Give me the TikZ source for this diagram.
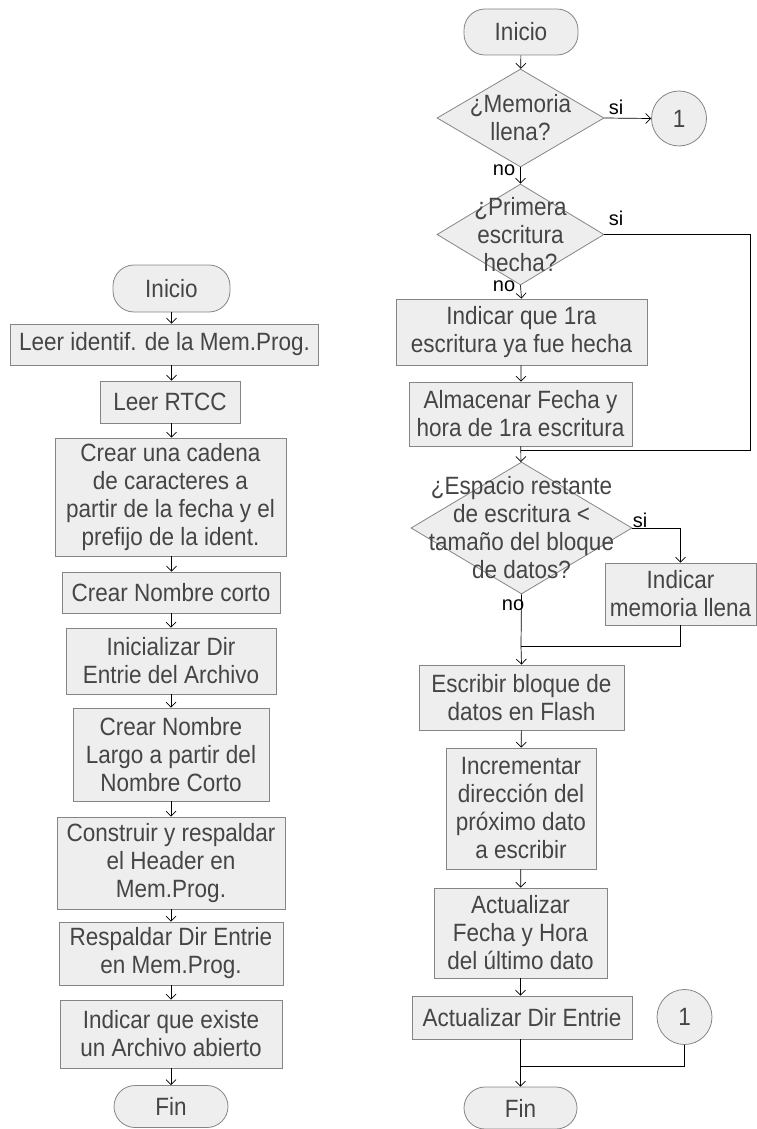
\documentclass[tikz,border=0pt]{standalone}
\usepackage{fontspec}
\setmainfont{Liberation Sans}
\newfontfamily\boxfont[FakeStretch=0.9]{Liberation Sans}
\usetikzlibrary{shapes.geometric,arrows.meta}
\definecolor{boxfill}{HTML}{EEEEEE}
\definecolor{boxline}{HTML}{858585}
\definecolor{boxtext}{HTML}{454545}
\tikzset{
  base/.style={fill=boxfill,draw=boxline,line width=0.8pt,text=boxtext,align=center,
    font=\boxfont\fontsize{25}{28}\selectfont,inner sep=1pt},
  procbox/.style={base,rectangle},
  termbox/.style={base,rectangle,rounded corners=21pt},
  decbox/.style={base,diamond},
  connbox/.style={base,circle,minimum size=55pt},
  lbl/.style={font=\fontsize{20}{22}\selectfont,text=black,inner sep=0pt},
  dectext/.style={text=boxtext,align=center,font=\boxfont\fontsize{25}{28}\selectfont,inner sep=0pt},
  flow/.style={draw=black,line width=0.7pt,-{Straight Barb[length=5pt,width=10pt]}},
  plain/.style={draw=black,line width=0.7pt},
}
\begin{document}
\begin{tikzpicture}[x=1pt,y=-1pt]
\useasboundingbox (0,0) rectangle (757,1129);
% ---------- left column ----------
\node[termbox,minimum width=117pt,minimum height=47pt] (L0) at (171.5,288.5) {Inicio};
\node[procbox,minimum width=308pt,minimum height=41pt] (L1) at (164.5,344.5) {Leer identif. de la Mem.Prog.};
\node[procbox,minimum width=140pt,minimum height=42pt] (L2) at (170,402) {Leer RTCC};
\node[procbox,minimum width=231pt,minimum height=118pt] (L3) at (170.5,497) {Crear una cadena\\de caracteres a\\partir de la fecha y el\\prefijo de la ident.};
\node[procbox,minimum width=218pt,minimum height=41pt] (L4) at (171,592.5) {Crear Nombre corto};
\node[procbox,minimum width=210pt,minimum height=66pt] (L5) at (171,661) {Inicializar Dir\\Entrie del Archivo};
\node[procbox,minimum width=196pt,minimum height=93pt] (L6) at (171,754.5) {Crear Nombre\\Largo a partir del\\Nombre Corto};
\node[procbox,minimum width=228pt,minimum height=92pt] (L7) at (171,863) {Construir y respaldar\\el Header en\\Mem.Prog.};
\node[procbox,minimum width=224pt,minimum height=63pt] (L8) at (171,953.5) {Respaldar Dir Entrie\\en Mem.Prog.};
\node[procbox,minimum width=222pt,minimum height=68pt] (L9) at (171,1034) {Indicar que existe\\un Archivo abierto};
\node[termbox,minimum width=114pt,minimum height=42pt] (L10) at (171,1106.5) {Fin};
\draw[flow] (L0.south) -- (L0.south|-L1.north);
\draw[flow] (L0.south|-L1.south) -- (L0.south|-L2.north);
\draw[flow] (L0.south|-L2.south) -- (L0.south|-L3.north);
\draw[flow] (L0.south|-L3.south) -- (L0.south|-L4.north);
\draw[flow] (L4) -- (L5);
\draw[flow] (L5) -- (L6);
\draw[flow] (L6) -- (L7);
\draw[flow] (L7) -- (L8);
\draw[flow] (L8) -- (L9);
\draw[flow] (L9) -- (L10);
% ---------- right column ----------
\node[termbox,minimum width=114pt,minimum height=46pt] (R0) at (521,32) {Inicio};
\node[decbox,minimum width=167pt,minimum height=98pt] (D1) at (520.5,118) {};
\node[dectext] at (D1) {¿Memoria\\llena?};
\node[connbox] (C1) at (679,118.5) {1};
\node[decbox,minimum width=167pt,minimum height=101pt] (D2) at (520.5,234.5) {};
\node[dectext] at (D2) {¿Primera\\escritura\\hecha?};
\node[procbox,minimum width=251pt,minimum height=66pt] (B1) at (521.5,332) {Indicar que 1ra\\escritura ya fue hecha};
\node[procbox,minimum width=223pt,minimum height=64pt] (B2) at (520.5,414) {Almacenar Fecha y\\hora de 1ra escritura};
\node[decbox,minimum width=221pt,minimum height=132pt] (D3) at (521.5,528) {};
\node[dectext] at (D3) {¿Espacio restante\\de escritura <\\tamaño del bloque\\de datos?};
\node[procbox,minimum width=151pt,minimum height=62pt] (B3) at (680.5,594) {Indicar\\memoria llena};
\node[procbox,minimum width=205pt,minimum height=65pt] (B4) at (521.5,697.5) {Escribir bloque de\\datos en Flash};
\node[procbox,minimum width=150pt,minimum height=121pt] (B5) at (521,808.5) {Incrementar\\dirección del\\próximo dato\\a escribir};
\node[procbox,minimum width=173pt,minimum height=90pt] (B6) at (520.5,933) {Actualizar\\Fecha y Hora\\del último dato};
\node[procbox,minimum width=220pt,minimum height=43pt] (B7) at (522,1017.5) {Actualizar Dir Entrie};
\node[connbox] (C2) at (684.5,1017) {1};
\node[termbox,minimum width=113pt,minimum height=42pt] (F) at (520.5,1108) {Fin};
\coordinate (J1) at (521,450);
\coordinate (J2) at (521,646);
\coordinate (J3) at (521,1066);
% connectors
\draw[flow] (R0) -- (D1);
\draw[flow] (D1.east) -- (C1.west);
\draw[flow] (D1.south) -- (D2.north);
\draw[plain] (D2.east) -- ++(146,0) |- (J1);
\draw[flow] (D2.south) -- (B1.north);
\draw[flow] (B1) -- (B2);
\draw[flow] (B2) -- (D3);
\draw[flow] (D3.east) -| (B3.north);
\draw[plain] (D3.south) -- (J2);
\draw[plain] (B3.south) |- (J2);
\draw[flow] (J2) -- (B4.north);
\draw[flow] (B4) -- (B5);
\draw[flow] (B5) -- (B6);
\draw[flow] (B6.south) -- (B6.south|-B7.north);
\draw[plain] (C2.south) |- (J3);
\draw[flow] (B6.south|-B7.south) -- (F.north);
% labels
\node[lbl] (s1) at (616,107) {si};
\node[lbl] (n1) at (504,170) {no};
\node[lbl] (s2) at (616,218) {si};
\node[lbl] (n2) at (504,286) {no};
\node[lbl] (s3) at (640,520) {si};
\node[lbl] (n3) at (513,605) {no};
\end{tikzpicture}
\end{document}
